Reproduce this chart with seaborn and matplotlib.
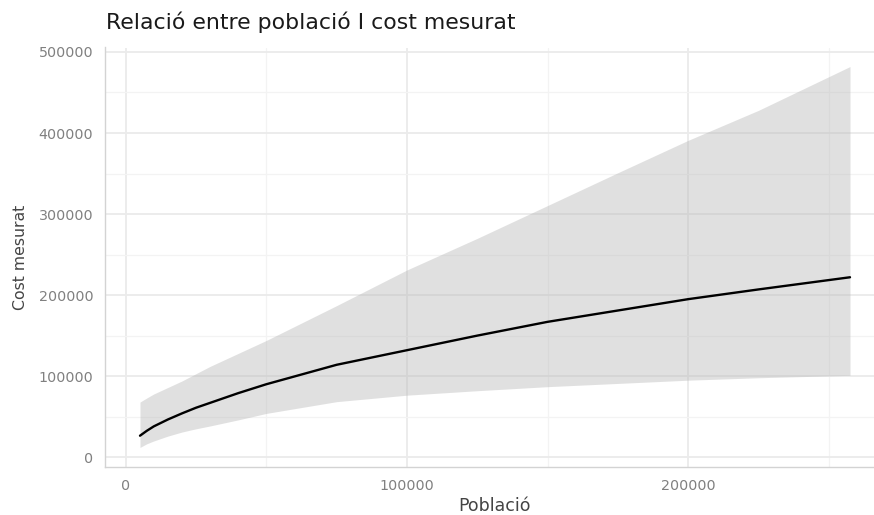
import matplotlib
matplotlib.use("Agg")
import matplotlib.pyplot as plt
import seaborn as sns
import pandas as pd
from matplotlib.ticker import MultipleLocator, FuncFormatter

# ---- data ----
poblacio = [5100, 7500, 10000, 15000, 20000, 25000, 30000, 40000, 50000,
            75000, 100000, 125000, 150000, 175000, 200000, 225000, 257500]
cost_fit = [26500, 32500, 38000, 46500, 54000, 61000, 67000, 79000, 90000,
            114000, 132000, 150000, 167000, 181000, 195000, 207000, 222000]
cost_low = [12000, 16500, 20000, 26000, 31000, 35000, 38500, 46000, 54000,
            68500, 76500, 82000, 87000, 91000, 95000, 98000, 101000]
cost_high = [68000, 73000, 78000, 86000, 94000, 103000, 112000, 128000, 144000,
             187000, 231000, 270000, 310500, 351000, 391000, 428000, 482000]

title = "Relació entre població I cost mesurat"
xlabel = "Població"
ylabel = "Cost mesurat"

df = pd.DataFrame({"Població": poblacio, "fit": cost_fit,
                   "low": cost_low, "high": cost_high})

sns.set_theme(style="whitegrid")
plt.rcParams["font.family"] = ["DejaVu Sans"]

fig = plt.figure(figsize=(8.74, 5.15), dpi=100)
W, H = 874, 515
left_px, right_px, top_px, bottom_px = 104.5, 885.5, 47.5, 466.5
ax = fig.add_axes([left_px / W, 1 - bottom_px / H,
                   (right_px - left_px) / W, (bottom_px - top_px) / H])

ax.fill_between(df["Població"], df["low"], df["high"],
                color="#B3B3B3", alpha=0.4, linewidth=0, zorder=2)
sns.lineplot(data=df, x="Població", y="fit", color="black",
             linewidth=1.7, ax=ax, zorder=3)

xr = max(poblacio) - min(poblacio)
ax.set_xlim(min(poblacio) - 0.05 * xr, max(poblacio) + 0.05 * xr)
yr = max(cost_high) - min(cost_low)
ax.set_ylim(min(cost_low) - 0.05 * yr, max(cost_high) + 0.05 * yr)

ax.xaxis.set_major_locator(MultipleLocator(100000))
ax.xaxis.set_minor_locator(MultipleLocator(50000))
ax.yaxis.set_major_locator(MultipleLocator(100000))
ax.yaxis.set_minor_locator(MultipleLocator(50000))
fmt = FuncFormatter(lambda v, p: f"{int(round(v))}")
ax.xaxis.set_major_formatter(fmt)
ax.yaxis.set_major_formatter(fmt)

ax.set_facecolor("white")
ax.grid(which="major", color="#EBEBEB", linewidth=1.3, zorder=0)
ax.grid(which="minor", color="#F3F3F3", linewidth=0.9, zorder=0)
ax.set_axisbelow(True)

for s in ["top", "right"]:
    ax.spines[s].set_visible(False)
for s in ["left", "bottom"]:
    ax.spines[s].set_visible(True)
    ax.spines[s].set_color("#D3D3D3")
    ax.spines[s].set_linewidth(1.0)

ax.tick_params(axis="both", which="both", length=0, labelsize=10.3,
               labelcolor="#808080")
ax.tick_params(axis="x", pad=9)
ax.tick_params(axis="y", pad=8)

ax.set_xlabel(xlabel, fontsize=12.5, color="#444444", labelpad=3)
ax.set_ylabel(ylabel, fontsize=11.3, color="#444444", labelpad=8)

fig.text(106 / W, 1 - 22.5 / H, title, fontsize=15.8, color="#1A1A1A",
         ha="left", va="center")

fig.savefig("out.png", dpi=100)
